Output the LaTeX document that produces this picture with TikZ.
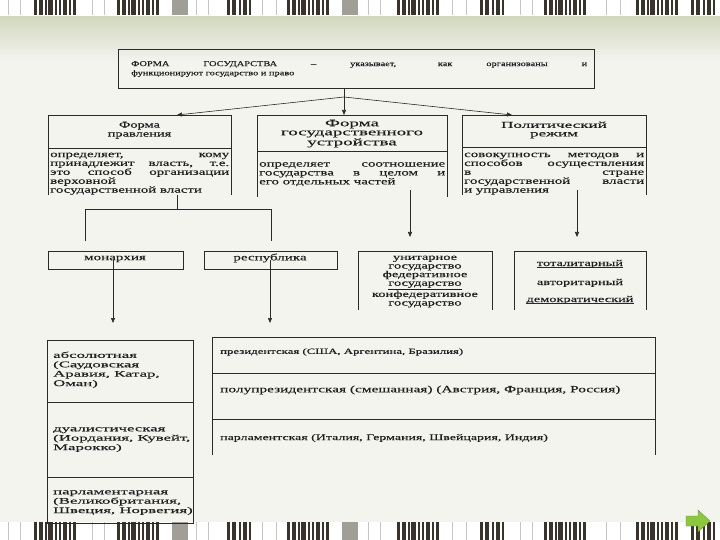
\documentclass[tikz,border=0pt]{standalone}
\usepackage{fontspec}
\setmainfont{Liberation Serif}[FakeStretch=1.6,FakeBold=0.3]
\newfontfamily\topf{Liberation Serif}[FakeStretch=1.4,FakeBold=0.3]
\newfontfamily\widef{Liberation Serif}[FakeStretch=1.95,FakeBold=0.3]
\newfontfamily\titf{Liberation Serif}[FakeStretch=1.9,FakeBold=0.3]
\usetikzlibrary{arrows.meta}
\definecolor{bgc}{HTML}{F4F4EF}
\definecolor{band}{HTML}{D2D8BF}
\definecolor{barc}{HTML}{3A332C}
\definecolor{barg}{HTML}{A19D97}
\definecolor{inkc}{HTML}{1E1E1E}
\definecolor{lnc}{HTML}{2A2A2A}
\definecolor{grn}{HTML}{8DC63F}
\newcommand\mybarfull[3]{%
  \foreach \o/\w in {0/3,5/4,11/1.5,14/5,21/2,25/1.5,29/4,35/2,39/3}{
    \fill[barc] (#1+\o,#2) rectangle (#1+\o+\w,#3);}}
\newcommand\mybarhalf[3]{%
  \foreach \o/\w in {0/3,5/4,12/2,16/4,22/2}{
    \fill[barc] (#1+\o,#2) rectangle (#1+\o+\w,#3);}}
\newcommand\mybarstrip[2]{%
  \fill[white] (0,#1) rectangle (720,#2);
  \foreach \x in {8,20,92,104,196,208,262,276,368,380,452,466,520,532,606,620}{
    \fill[barg!60] (\x,#1) rectangle (\x+1.2,#2);}
  \foreach \x in {34,117,287,397,544,636}{\mybarfull{\x}{#1}{#2}}
  \foreach \x in {227,480,691}{\mybarhalf{\x}{#1}{#2}}
  \fill[barg] (172,#1) rectangle (188,#2);
  \fill[barg] (342,#1) rectangle (358,#2);}
\begin{document}
\begin{tikzpicture}[x=1pt,y=-1pt,
  ln/.style={draw=lnc, line width=0.6pt},
  arr/.style={ln, -{Triangle[length=5pt,width=4pt]}},
  frame/.style={inner sep=0pt, outer sep=0pt, anchor=north west},
  ttl/.style={inner sep=0pt, align=center, text=inkc},
  dsc/.style={inner sep=0pt, align=justify, text=inkc, font=\fontsize{9.3}{8.9}\selectfont},
  cell/.style={inner sep=0pt, align=left, text=inkc, anchor=north west, font=\widef\fontsize{8.6}{9.4}\selectfont},
  rowt/.style={inner sep=0pt, text=inkc, anchor=west},
  lst/.style={inner sep=0pt, align=center, text=inkc, font=\fontsize{9}{8.6}\selectfont}]
\useasboundingbox (0,0) rectangle (720,540);
% background
\fill[bgc] (0,0) rectangle (720,540);
\shade[top color=band, bottom color=bgc] (0,16) rectangle (720,62);
\mybarstrip{0}{15}
\draw[white, line width=1pt] (0,16) -- (720,16);
\mybarstrip{522}{540}

% top box
\node[frame, draw=lnc, line width=0.6pt, minimum width=476pt, minimum height=39pt] (top) at (118,49) {};
\node[anchor=north west, inner sep=0pt, text width=456pt, align=justify, text=inkc,
  font=\topf\fontsize{7.4}{9.2}\selectfont] (toptext) at (131,61)
  {ФОРМА ГОСУДАРСТВА – указывает, как организованы и\linebreak функционируют государство и право};

% three boxes
\node[frame, minimum width=183pt, minimum height=80pt] (b1) at (48,115) {};
\node[frame, minimum width=190pt, minimum height=82pt] (b2) at (257,115) {};
\node[frame, minimum width=184pt, minimum height=80pt] (b3) at (462,115) {};
\foreach \b in {b1,b2,b3}{\draw[ln] (\b.south west) -- (\b.north west) -- (\b.north east) -- (\b.south east);}
\draw[ln] ([yshift=-33pt]b1.north west) -- ([yshift=-33pt]b1.north east);
\draw[ln] ([yshift=-36pt]b2.north west) -- ([yshift=-36pt]b2.north east);
\draw[ln] ([yshift=-32pt]b3.north west) -- ([yshift=-32pt]b3.north east);

\node[ttl, anchor=north, font=\fontsize{9}{9}\selectfont] (t1) at (139.5,121.5) {Форма\\правления};
\node[ttl, anchor=north, font=\titf\fontsize{10}{9}\selectfont] (t2) at (352,119.5) {Форма\\государственного\\устройства};
\node[ttl, anchor=north, font=\titf\fontsize{9}{8.5}\selectfont] (t3) at (554,121.5) {Политический\\режим};

\node[dsc, anchor=north west, text width=179pt] (d1) at (50,152.5)
  {определяет, кому\linebreak принадлежит власть, т.е.\linebreak это способ организации\linebreak верховной\\государственной власти};
\node[dsc, anchor=north west, text width=186pt] (d2) at (259,162)
  {определяет соотношение\linebreak государства в целом и\linebreak его отдельных частей};
\node[dsc, anchor=north west, text width=180pt] (d3) at (464,152.5)
  {совокупность методов и\linebreak способов осуществления\linebreak в стране\linebreak государственной власти\linebreak и управления};

% arrows from top box
\coordinate (split) at (344,97);
\coordinate (in1) at (177,115);
\coordinate (in3) at (512,115);
\draw[arr] (top.south -| split) -- (b2.north -| split);
\draw[arr] (split) -- (in1);
\draw[arr] (split) -- (in3);

% second row
\node[frame, draw=lnc, line width=0.6pt, minimum width=135pt, minimum height=18pt] (mon) at (48,251) {};
\node[lst, font=\fontsize{9.4}{9}\selectfont] (monl) at (115,259) {монархия};
\node[frame, draw=lnc, line width=0.6pt, minimum width=133pt, minimum height=18pt] (rep) at (204,251) {};
\node[lst, font=\fontsize{9.4}{9}\selectfont] (repl) at (270,258) {республика};
\node[frame, minimum width=134pt, minimum height=59pt] (uni) at (358,251) {};
\node[frame, minimum width=132pt, minimum height=59pt] (reg) at (514,251) {};
\foreach \b in {uni,reg}{\draw[ln] (\b.south west) -- (\b.north west) -- (\b.north east) -- (\b.south east);}
\node[lst, anchor=north] (unil) at (425,255.5) {унитарное\\государство\\федеративное\\\underline{государство}\\конфедеративное\\государство};
\node[lst, anchor=base] (tot) at (580,266) {тоталитарный};
\node[lst, anchor=base] (avt) at (580,285) {авторитарный};
\node[lst, anchor=base] (dem) at (580,302) {демократический};
\draw[ln, line width=0.5pt] ([yshift=-1.5pt]tot.base west) -- ([yshift=-1.5pt]tot.base east);
\draw[ln, line width=0.5pt] ([yshift=-1.5pt]dem.base west) -- ([yshift=-1.5pt]dem.base east);

% connectors to second row
\coordinate (j1) at (177,209);
\coordinate (jl) at (85,209);
\coordinate (jr) at (271,209);
\coordinate (jl2) at (85,241);
\coordinate (jr2) at (271,241);
\draw[ln] (b1.south -| j1) -- (j1);
\draw[ln] (jl2) -- (jl) -- (jr) -- (jr2);
\coordinate (a2) at (410,237);
\coordinate (a3) at (577,237);
\draw[arr] ([yshift=7pt]b2.south -| a2) -- (a2);
\draw[arr] ([yshift=5pt]b3.south -| a3) -- (a3);
\coordinate (m1) at (113,323);
\coordinate (r1) at (270,323);
\draw[arr] (mon.center -| m1) -- (m1);
\draw[arr] (rep.center -| r1) -- (r1);

% bottom left table
\node[frame, draw=lnc, line width=0.6pt, minimum width=146pt, minimum height=183pt] (lt) at (47,340) {};
\draw[ln] (47,402) -- (193,402);
\draw[ln] (47,477) -- (193,477);
\node[cell] (c1) at (53,351.5) {абсолютная\\(Саудовская\\Аравия, Катар,\\Оман)};
\node[cell] (c2) at (53,427) {дуалистическая\\(Иордания, Кувейт,\\Марокко)};
\node[cell] (c3) at (53,490) {парламентарная\\(Великобритания,\\Швеция, Норвегия)};

% bottom right table
\node[frame, minimum width=443pt, minimum height=118pt] (rt) at (212,337) {};
\draw[ln] (rt.south west) -- (rt.north west) -- (rt.north east) -- (rt.south east);
\draw[ln] (212,373) -- (655,373);
\draw[ln] (212,419) -- (655,419);
\node[rowt, font=\fontsize{8.0}{9}\selectfont] (p1) at (220,352) {президентская (США, Аргентина, Бразилия)};
\node[rowt, font=\fontsize{9.6}{9}\selectfont] (p2) at (220,390) {полупрезидентская (смешанная) (Австрия, Франция, Россия)};
\node[rowt, font=\fontsize{8.7}{9}\selectfont] (p3) at (220,438) {парламентская (Италия, Германия, Швейцария, Индия)};

% green arrow icon
\fill[grn, draw=grn!70!black, line width=0.3pt] (686,516) -- (698,516) -- (698,510) -- (710,521) -- (698,532) -- (698,526) -- (686,526) -- cycle;
\end{tikzpicture}
\end{document}
